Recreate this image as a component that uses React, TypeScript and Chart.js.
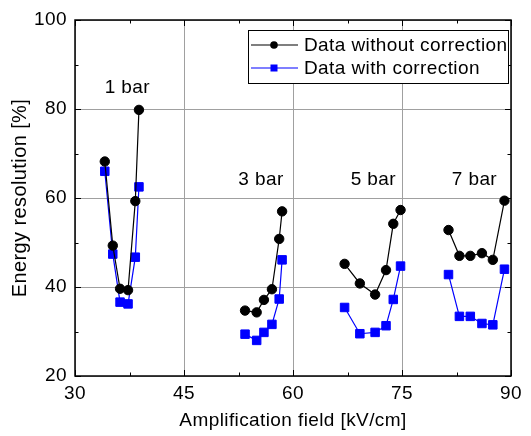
import React, { useEffect, useRef } from 'react';
import { Chart, registerables } from 'chart.js';

Chart.register(...registerables);

// ---- data ----
const field1bar = [34.1, 35.2, 36.2, 37.3, 38.3, 38.8];
const field3bar = [53.4, 55.0, 56.0, 57.1, 58.1, 58.5];
const field5bar = [67.1, 69.2, 71.3, 72.8, 73.8, 74.8];
const field7bar = [81.4, 82.9, 84.4, 86.0, 87.5, 89.1];

const noCorr1bar = [68.2, 49.3, 39.6, 39.3, 59.3, 79.8];
const noCorr3bar = [34.7, 34.3, 37.1, 39.5, 50.8, 57.0];
const noCorr5bar = [45.2, 40.8, 38.3, 43.8, 54.2, 57.3];
const noCorr7bar = [52.8, 47.0, 47.0, 47.6, 46.1, 59.4];

const corr1bar = [66.0, 47.4, 36.6, 36.2, 46.7, 62.5];
const corr3bar = [29.4, 28.0, 29.8, 31.6, 37.3, 46.1];
const corr5bar = [35.4, 29.5, 29.8, 31.3, 37.2, 44.7];
const corr7bar = [42.8, 33.4, 33.4, 31.8, 31.5, 44.0];

const seriesNames = ['Data without correction', 'Data with correction'];

const pressureLabels = ['1 bar', '3 bar', '5 bar', '7 bar'];
const pressureLabelX = [37.2, 55.6, 71.05, 84.97];
const pressureLabelY = [84.8, 64.2, 64.2, 64.2];

const xMajorTicks = [30, 45, 60, 75, 90];
const xMinorTicks = [37.5, 52.5, 67.5, 82.5];
const yMajorTicks = [20, 40, 60, 80, 100];
const yMinorTicks = [30, 50, 70, 90];

const xTitle = 'Amplification field [kV/cm]';
const yTitle = 'Energy resolution [%]';

// ---- styling ----
const FONT = '"Liberation Sans", Arial, Helvetica, sans-serif';
const LETTER_SPACING = '0.4px';
const BLUE = '#0000ff';
const BLACK = '#000000';

const fieldGroups = [field1bar, field3bar, field5bar, field7bar];

function buildSeries(values: number[][]) {
  const out: { x: number; y: number | null }[] = [];
  fieldGroups.forEach((xs, g) => {
    xs.forEach((x, i) => out.push({ x, y: values[g][i] }));
    if (g < fieldGroups.length - 1) out.push({ x: xs[xs.length - 1], y: null });
  });
  return out;
}

const framePlugin = {
  id: 'framePlugin',
  beforeUpdate(chart: any) {
    chart.ctx.letterSpacing = LETTER_SPACING;
  },
  beforeDraw(chart: any) {
    chart.ctx.letterSpacing = LETTER_SPACING;
  },
  afterDraw(chart: any) {
    const { ctx, chartArea } = chart;
    const { left, right, top, bottom } = chartArea;
    const xs = chart.scales.x;
    const ys = chart.scales.y;
    ctx.save();
    ctx.letterSpacing = LETTER_SPACING;

    // inward ticks
    ctx.strokeStyle = BLACK;
    ctx.lineWidth = 1;
    const seg = (x1: number, y1: number, x2: number, y2: number) => {
      ctx.beginPath();
      ctx.moveTo(x1, y1);
      ctx.lineTo(x2, y2);
      ctx.stroke();
    };
    const MAJ = 6;
    const MIN = 3.5;
    xMajorTicks.forEach((v) => {
      const p = Math.round(xs.getPixelForValue(v)) + 0.5;
      seg(p, bottom, p, bottom - MAJ);
      seg(p, top, p, top + MAJ);
    });
    xMinorTicks.forEach((v) => {
      const p = Math.round(xs.getPixelForValue(v)) + 0.5;
      seg(p, bottom, p, bottom - MIN);
      seg(p, top, p, top + MIN);
    });
    yMajorTicks.forEach((v) => {
      const p = Math.round(ys.getPixelForValue(v)) + 0.5;
      seg(left, p, left + MAJ, p);
      seg(right, p, right - MAJ, p);
    });
    yMinorTicks.forEach((v) => {
      const p = Math.round(ys.getPixelForValue(v)) + 0.5;
      seg(left, p, left + MIN, p);
      seg(right, p, right - MIN, p);
    });

    // frame
    ctx.lineWidth = 1.5;
    ctx.strokeRect(left, top, right - left, bottom - top);

    // pressure labels
    ctx.fillStyle = BLACK;
    ctx.font = `19px ${FONT}`;
    ctx.textAlign = 'center';
    ctx.textBaseline = 'middle';
    pressureLabels.forEach((t, i) => {
      ctx.fillText(t, xs.getPixelForValue(pressureLabelX[i]), ys.getPixelForValue(pressureLabelY[i]));
    });

    // legend box (inside plot, top right)
    const bx = right - 263;
    const by = top + 10;
    const bw = 260;
    const bh = 53;
    ctx.fillStyle = '#ffffff';
    ctx.fillRect(bx, by, bw, bh);
    ctx.strokeStyle = BLACK;
    ctx.lineWidth = 1;
    ctx.strokeRect(bx + 0.5, by + 0.5, bw, bh);
    const rows = [by + 15, by + 38];
    const colors = [BLACK, BLUE];
    rows.forEach((ry, i) => {
      ctx.strokeStyle = colors[i];
      ctx.lineWidth = 1.2;
      seg(bx + 3, ry, bx + 50, ry);
      ctx.fillStyle = colors[i];
      const mx = bx + 26;
      if (i === 0) {
        ctx.beginPath();
        ctx.arc(mx, ry, 3.8, 0, Math.PI * 2);
        ctx.fill();
      } else {
        ctx.fillRect(mx - 3.5, ry - 3.5, 7, 7);
      }
      ctx.fillStyle = BLACK;
      ctx.textAlign = 'left';
      ctx.textBaseline = 'middle';
      ctx.fillText(seriesNames[i], bx + 56, ry + 1);
    });
    ctx.restore();
  },
};

export default function App() {
  const ref = useRef<HTMLCanvasElement>(null);
  useEffect(() => {
    document.body.style.margin = '0';
    const canvas = ref.current!;
    const chart = new Chart(canvas, {
      type: 'scatter',
      data: {
        datasets: [
          {
            label: seriesNames[0],
            data: buildSeries([noCorr1bar, noCorr3bar, noCorr5bar, noCorr7bar]),
            showLine: true,
            spanGaps: false,
            borderColor: BLACK,
            backgroundColor: BLACK,
            borderWidth: 1.2,
            pointStyle: 'circle',
            pointRadius: 4.7,
            pointBorderWidth: 1,
            pointBackgroundColor: BLACK,
            pointBorderColor: BLACK,
          },
          {
            label: seriesNames[1],
            data: buildSeries([corr1bar, corr3bar, corr5bar, corr7bar]),
            showLine: true,
            spanGaps: false,
            borderColor: BLUE,
            backgroundColor: BLUE,
            borderWidth: 1.2,
            pointStyle: 'rect',
            pointRadius: 6,
            pointBorderWidth: 1,
            pointBackgroundColor: BLUE,
            pointBorderColor: BLUE,
          },
        ],
      },
      options: {
        responsive: false,
        animation: false,
        devicePixelRatio: 1,
        layout: { padding: { top: 20, right: 20, left: 0, bottom: 0 } },
        plugins: {
          legend: { display: false },
          tooltip: { enabled: false },
          title: { display: false },
        },
        scales: {
          x: {
            type: 'linear',
            min: 30,
            max: 90,
            afterBuildTicks: (s: any) => {
              s.ticks = xMajorTicks.map((v) => ({ value: v }));
            },
            afterFit: (s: any) => {
              s.height = 60;
            },
            grid: { color: '#a0a0a0', lineWidth: 1, drawTicks: false },
            border: { display: false },
            ticks: {
              padding: 6,
              color: BLACK,
              font: { family: FONT, size: 19 },
              maxRotation: 0,
              autoSkip: false,
            },
            title: {
              display: true,
              text: xTitle,
              color: BLACK,
              font: { family: FONT, size: 19 },
              padding: { top: 0, bottom: 4 },
            },
          },
          y: {
            type: 'linear',
            min: 20,
            max: 100,
            afterBuildTicks: (s: any) => {
              s.ticks = yMajorTicks.map((v) => ({ value: v }));
            },
            afterFit: (s: any) => {
              s.width = 75;
            },
            grid: { color: '#a0a0a0', lineWidth: 1, drawTicks: false },
            border: { display: false },
            ticks: {
              padding: 8,
              color: BLACK,
              font: { family: FONT, size: 19 },
              autoSkip: false,
            },
            title: {
              display: true,
              text: yTitle,
              color: BLACK,
              font: { family: FONT, size: 20 },
              padding: { top: 8, bottom: 0 },
            },
          },
        },
      },
      plugins: [framePlugin],
    } as any);
    return () => chart.destroy();
  }, []);
  return (
    <div style={{ width: 531, height: 436 }}>
      <canvas ref={ref} width={531} height={436} style={{ display: 'block' }} />
    </div>
  );
}
